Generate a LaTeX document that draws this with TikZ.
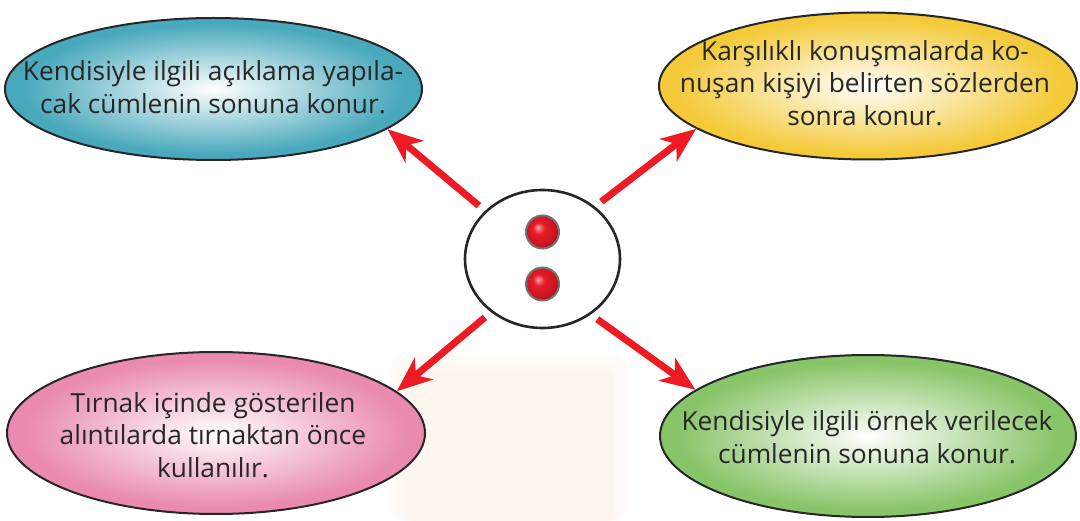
\documentclass[tikz,border=0pt]{standalone}
\usepackage{fontspec}
\setmainfont{Open Sans}
\usetikzlibrary{arrows.meta,shapes.geometric,calc}
\definecolor{tealc}{RGB}{72,168,188}
\definecolor{yellc}{RGB}{244,202,58}
\definecolor{pinkc}{RGB}{233,138,174}
\definecolor{greenc}{RGB}{136,196,104}
\definecolor{arrred}{RGB}{237,28,36}
\definecolor{ballred}{RGB}{232,26,38}
\definecolor{wmc}{RGB}{253,245,235}
\pgfdeclareradialshading{tealsh}{\pgfpoint{0bp}{0bp}}{color(0bp)=(white); color(5bp)=(white!78!tealc); color(23bp)=(tealc); color(50bp)=(tealc)}
\pgfdeclareradialshading{yellsh}{\pgfpoint{0bp}{0bp}}{color(0bp)=(white); color(5bp)=(white!78!yellc); color(23bp)=(yellc); color(50bp)=(yellc)}
\pgfdeclareradialshading{pinksh}{\pgfpoint{0bp}{0bp}}{color(0bp)=(white); color(5bp)=(white!78!pinkc); color(23bp)=(pinkc); color(50bp)=(pinkc)}
\pgfdeclareradialshading{greensh}{\pgfpoint{0bp}{0bp}}{color(0bp)=(white); color(5bp)=(white!78!greenc); color(23bp)=(greenc); color(50bp)=(greenc)}
\pgfdeclareradialshading{redball}{\pgfpoint{-7bp}{7bp}}{color(0bp)=(ballred!40!white); color(9bp)=(ballred); color(24bp)=(ballred!85!black); color(34bp)=(ballred!45!black); color(50bp)=(ballred!45!black)}
\tikzset{
  bub/.style={ellipse, draw=black!85, line width=2pt, inner sep=0pt},
  txt/.style={align=center, inner sep=0pt, text=black!85, font=\fontsize{26.3}{32.5}\selectfont},
  ballnode/.style={circle, minimum size=33pt, inner sep=0pt, shading=redball, draw=black!55, line width=2pt},
  arr/.style={draw=arrred, line width=7pt, -{Stealth[length=35pt, width=28pt, inset=10pt]}, shorten <=8pt}
}
\begin{document}
\begin{tikzpicture}[x=1pt,y=-1pt]
\useasboundingbox (0,0) rectangle (1080,521);
% faint background mark
\fill[wmc!35!white, rounded corners=14pt] (390,356) rectangle (628,521);
\fill[wmc!60!white, rounded corners=12pt] (396,362) rectangle (622,521);
\fill[wmc!80!white, rounded corners=10pt] (404,370) rectangle (614,521);
% bubbles
\node[bub, shading=tealsh, minimum width=417pt, minimum height=142pt] (kend) at (213.5,89) {};
\node[txt] (kendt) at (213,87) {Kendisiyle ilgili açıklama yapıla-\\cak cümlenin sonuna konur.};
\node[bub, shading=yellsh, minimum width=418pt, minimum height=147pt] (kars) at (868,86) {};
\node[txt] (karst) at (865,83) {Karşılıklı konuşmalarda ko-\\nuşan kişiyi belirten sözlerden\\sonra konur.};
\node[bub, shading=pinksh, minimum width=418pt, minimum height=162pt] (tirn) at (216,433) {};
\node[txt] (tirnt) at (213,435) {Tırnak içinde gösterilen\\alıntılarda tırnaktan önce\\kullanılır.};
\node[bub, shading=greensh, minimum width=416pt, minimum height=162pt] (orn) at (868,436) {};
\node[txt] (ornt) at (867,437) {Kendisiyle ilgili örnek verilecek\\cümlenin sonuna konur.};
% centre
\node[ellipse, draw=black!85, line width=2.6pt, fill=white, minimum width=155pt, minimum height=138pt, inner sep=0pt] (c) at (542.5,259) {};
\node[ballnode] (b1) at (542.5,232) {};
\node[ballnode] (b2) at (542.5,284) {};
% arrows
\draw[arr] (c.140) -- (kend.-13.4);
\draw[arr] (c.45.3) -- (kars.194.1);
\draw[arr] (c.226.8) -- (tirn.13.7);
\draw[arr] (c.311.5) -- (orn.165.7);
\end{tikzpicture}
\end{document}
